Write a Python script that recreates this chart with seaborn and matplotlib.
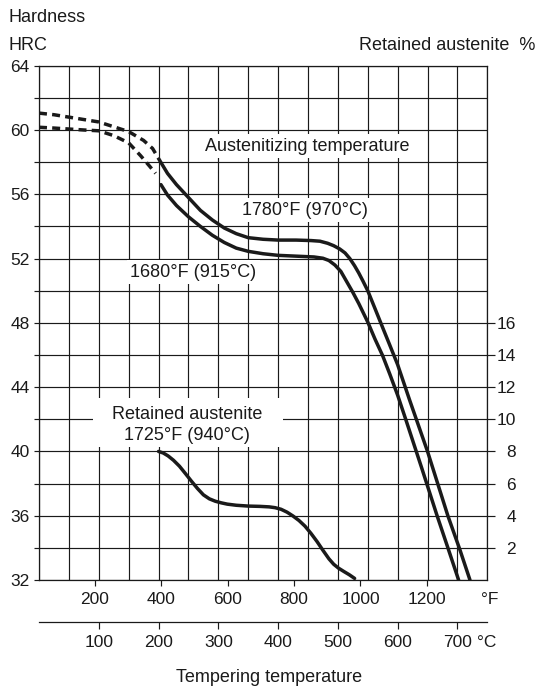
import numpy as np
import pandas as pd
import matplotlib
matplotlib.use("Agg")
import matplotlib.pyplot as plt
from matplotlib.patches import Rectangle
import seaborn as sns

# ---------------- data (temperature in °C, hardness in HRC, RA in %) -------------
upper_dash_c = [0, 25, 50, 75, 100, 125, 150, 175, 190, 202]
upper_dash_hrc = [61.05, 60.95, 60.8, 60.65, 60.5, 60.2, 59.9, 59.35, 58.85, 58.1]

lower_dash_c = [0, 25, 50, 75, 100, 125, 150, 170, 185, 195]
lower_dash_hrc = [60.17, 60.12, 60.06, 60.0, 59.95, 59.65, 59.2, 58.4, 57.75, 57.3]

upper_c = [202, 215, 230, 250, 270, 290, 310, 330, 350, 375, 400, 430, 455, 470, 483,
           493, 503, 512, 520, 528, 535, 542, 550, 562, 575, 587, 600, 620, 650, 684,
           704, 721]
upper_hrc = [58.1, 57.3, 56.6, 55.8, 55.0, 54.4, 53.9, 53.55, 53.3, 53.2, 53.15, 53.15,
             53.12, 53.08, 52.95, 52.8, 52.6, 52.35, 52.0, 51.55, 51.1, 50.6, 50.0, 48.9,
             47.7, 46.6, 45.4, 43.2, 40.0, 36.0, 33.9, 32.0]

lower_c = [204, 215, 230, 250, 270, 290, 310, 330, 350, 375, 400, 430, 460, 475, 485,
           495, 505, 515, 525, 535, 550, 562, 575, 587, 600, 613.5, 640, 666, 685, 702]
lower_hrc = [56.6, 55.95, 55.3, 54.6, 54.0, 53.45, 53.0, 52.65, 52.45, 52.3, 52.2, 52.15,
             52.1, 52.02, 51.88, 51.6, 51.2, 50.55, 49.9, 49.2, 48.05, 47.0, 45.95, 44.8,
             43.5, 42.0, 39.0, 36.0, 33.9, 32.0]

ra_c = [200, 208, 216, 225, 235, 245, 255, 265, 275, 285, 295, 305, 315, 330, 350, 370,
        385, 395, 405, 415, 425, 435, 445, 455, 465, 475, 485, 493, 501, 510, 519, 528]
ra_pct = [8.0, 7.9, 7.72, 7.45, 7.08, 6.62, 6.15, 5.7, 5.3, 5.05, 4.9, 4.8, 4.72, 4.65,
          4.6, 4.58, 4.55, 4.5, 4.4, 4.22, 3.98, 3.7, 3.35, 2.9, 2.4, 1.85, 1.32, 0.98,
          0.74, 0.53, 0.33, 0.1]

hrc_ticks = list(range(32, 65, 2))
hrc_labels = [str(v) if v % 4 == 0 else "" for v in hrc_ticks]
ra_ticks = list(range(2, 17, 2))
f_ticks = [200, 400, 600, 800, 1000, 1200]
c_ticks = [100, 200, 300, 400, 500, 600, 700]

# ---------------- style -------------
sns.set_style("white")
plt.rcParams["font.family"] = ["Liberation Sans", "DejaVu Sans"]
plt.rcParams["text.color"] = "#1a1a1a"

W, H = 537, 691
fig = plt.figure(figsize=(W / 100, H / 100), dpi=100)


def fx(x):
    return x / W


def fy(y):
    return 1 - y / H


L, R, T, B = 39, 487.3, 65.7, 580
ax = fig.add_axes([fx(L), fy(B), (R - L) / W, (B - T) / H])

ax.set_xlim(0, 750)
ax.set_ylim(32, 64)
ax.set_xticks(np.arange(0, 751, 50))
ax.set_yticks(hrc_ticks)
ax.set_yticklabels(hrc_labels)
ax.set_axisbelow(True)
ax.grid(True, color="#1a1a1a", lw=0.85)
ax.tick_params(axis="x", length=0, labelbottom=False)
ax.tick_params(axis="y", length=3.6, width=0.85, color="#1a1a1a", pad=3,
               labelsize=12.5, labelcolor="#1a1a1a")
ax.yaxis.get_major_ticks()[-1].tick1line.set_visible(False)
for s in ax.spines.values():
    s.set_color("#1a1a1a")
    s.set_linewidth(0.9)

lw = 2.5
dash = (0, (2.3, 1.5))
sns.lineplot(x=upper_dash_c, y=upper_dash_hrc, ax=ax, color="#1a1a1a", lw=lw,
             linestyle=dash, sort=False, estimator=None)
sns.lineplot(x=lower_dash_c, y=lower_dash_hrc, ax=ax, color="#1a1a1a", lw=lw,
             linestyle=dash, sort=False, estimator=None)
sns.lineplot(x=upper_c, y=upper_hrc, ax=ax, color="#1a1a1a", lw=lw,
             sort=False, estimator=None)
sns.lineplot(x=lower_c, y=lower_hrc, ax=ax, color="#1a1a1a", lw=lw,
             sort=False, estimator=None)
ax.set_xlabel("")
ax.set_ylabel("")

# right axis: retained austenite
axR = ax.twinx()
axR.set_ylim(0, 32)
sns.lineplot(x=ra_c, y=ra_pct, ax=axR, color="#1a1a1a", lw=lw,
             sort=False, estimator=None)
axR.set_xlim(0, 750)
axR.set_yticks(ra_ticks)
axR.set_ylabel("")
axR.tick_params(axis="y", length=5.8, width=0.85, color="#1a1a1a", pad=15,
                labelsize=12.5, labelcolor="#1a1a1a")
plt.setp(axR.get_yticklabels(), ha="right")
for s in axR.spines.values():
    s.set_visible(False)
axR.grid(False)


def c2f(c):
    return np.asarray(c) * 1.8 + 32


def f2c(f):
    return (np.asarray(f) - 32) / 1.8


secF = ax.secondary_xaxis("bottom", functions=(c2f, f2c))
secF.set_xticks(f_ticks)
secF.tick_params(length=4.5, width=0.85, color="#1a1a1a", pad=4.5, labelsize=12.5,
                 labelcolor="#1a1a1a")
secF.spines["bottom"].set_visible(False)

secC = ax.secondary_xaxis(-(621.7 - B) / (B - T), functions=(lambda x: x, lambda x: x))
secC.set_xticks(c_ticks)
secC.tick_params(length=4.8, width=0.85, color="#1a1a1a", pad=5, labelsize=12.5,
                 labelcolor="#1a1a1a")
secC.spines["bottom"].set_color("#1a1a1a")
secC.spines["bottom"].set_linewidth(0.9)

# annotations
box = dict(facecolor="white", edgecolor="none", pad=2.5)
ax.text(448, 59.0, "Austenitizing temperature", ha="center", va="center",
        fontsize=13, bbox=box, zorder=4)
ax.text(445, 55.0, "1780°F (970°C)", ha="center", va="center", fontsize=13,
        bbox=box, zorder=4)
ax.text(258.5, 51.16, "1680°F (915°C)", ha="center", va="center", fontsize=13,
        bbox=box, zorder=4)
ax.add_patch(Rectangle(((93 - L) / (R - L), (B - 447) / (B - T)),
                       (283 - 93) / (R - L), (447 - 398) / (B - T),
                       transform=ax.transAxes, facecolor="white", edgecolor="none",
                       zorder=3))
ax.text(247.6, 41.67, "Retained austenite\n1725°F (940°C)", ha="center", va="center",
        fontsize=13, linespacing=1.3, zorder=4)

# figure texts
fig.text(fx(8), fy(18), "Hardness", ha="left", va="center", fontsize=13)
fig.text(fx(8), fy(45), "HRC", ha="left", va="center", fontsize=13)
fig.text(fx(535), fy(45), "Retained austenite  %", ha="right", va="center", fontsize=13)
fig.text(fx(489.5), fy(600), "°F", ha="center", va="center", fontsize=12.5)
fig.text(fx(487), fy(642.5), "°C", ha="center", va="center", fontsize=12.5)
fig.text(fx(269), fy(678), "Tempering temperature", ha="center", va="center",
         fontsize=13)

fig.savefig("out.png", dpi=100)
